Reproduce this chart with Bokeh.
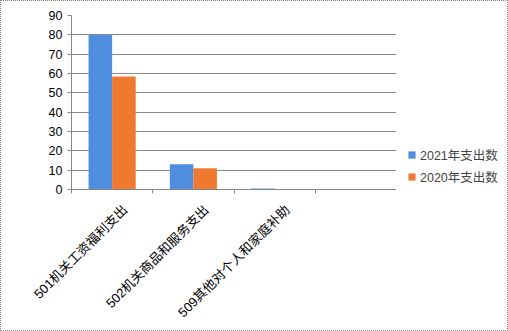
import numpy as np
from bokeh.plotting import figure
from bokeh.layouts import row
from bokeh.models import FixedTicker, Legend, LegendItem, ColumnDataSource, Range1d
from bokeh.transform import dodge
from bokeh.embed import file_html
from bokeh.resources import INLINE

categories = ["501机关工资福利支出", "502机关商品和服务支出", "509其他对个人和家庭补助", ""]
spend_2021 = [80, 13, 0.5, 0]
spend_2020 = [58.5, 11, 0, 0]
series_names = ["2021年支出数", "2020年支出数"]
series_colors = ["#4F8EDF", "#EF7A2F"]
y_ticks = [0, 10, 20, 30, 40, 50, 60, 70, 80, 90]

centers = np.arange(len(categories)) + 0.5
src = ColumnDataSource(dict(x=centers, a=spend_2021, b=spend_2020))

p = figure(width=396, height=331, title=None,
           x_range=Range1d(0, len(categories)), y_range=Range1d(0, 90),
           output_backend="svg", toolbar_location=None,
           min_border_left=71, min_border_right=0, min_border_top=15, min_border_bottom=142)
p.outline_line_color = None
p.background_fill_color = "white"
p.border_fill_alpha = 0

r1 = p.vbar(x=dodge("x", -0.145, range=p.x_range), top="a", width=0.29, source=src,
            fill_color=series_colors[0], line_color=None)
r2 = p.vbar(x=dodge("x", 0.145, range=p.x_range), top="b", width=0.29, source=src,
            fill_color=series_colors[1], line_color=None)

grid_color = "#8a8a8a"
axis_color = "#868686"
label_font = "'Liberation Sans', 'Noto Sans CJK SC'"

# y axis
p.yaxis.ticker = FixedTicker(ticks=y_ticks, minor_ticks=[])
p.yaxis.axis_line_color = axis_color
p.yaxis.major_tick_line_color = axis_color
p.yaxis.major_tick_out = 4
p.yaxis.major_tick_in = 0
p.yaxis.major_label_standoff = 5
p.yaxis.major_label_text_font = "Liberation Sans"
p.yaxis.major_label_text_font_size = "12.5px"
p.yaxis.major_label_text_color = "black"
p.ygrid.ticker = FixedTicker(ticks=y_ticks)
p.ygrid.grid_line_color = grid_color
p.xgrid.grid_line_color = None

# x axis: labels at (shifted) category centres, ticks at boundaries
shift = 0.16
label_pos = [round(c + shift, 2) for c in centers]
p.xaxis.ticker = FixedTicker(ticks=label_pos, minor_ticks=list(range(len(categories) + 1)))
p.xaxis.major_label_overrides = {lp: c for lp, c in zip(label_pos, categories)}
p.xaxis.major_label_orientation = np.pi / 4
p.xaxis.major_tick_line_color = None
p.xaxis.major_tick_out = 0
p.xaxis.major_tick_in = 0
p.xaxis.minor_tick_line_color = axis_color
p.xaxis.minor_tick_out = 4
p.xaxis.minor_tick_in = 0
p.xaxis.major_label_standoff = 14
p.xaxis.axis_line_color = axis_color
p.xaxis.major_label_text_font = label_font
p.xaxis.major_label_text_font_size = "13px"
p.xaxis.major_label_text_color = "black"

# legend panel (separate figure to the right of the plot; frames are aligned by the row)
q = figure(width=112, height=331, title=None, x_range=Range1d(0, 1), y_range=Range1d(0, 1),
           x_axis_type=None, y_axis_type=None, output_backend="svg", toolbar_location=None,
           min_border_left=0, min_border_right=0, min_border_top=15, min_border_bottom=142)
q.outline_line_color = None
q.background_fill_alpha = 0
q.border_fill_alpha = 0
q.xgrid.grid_line_color = None
q.ygrid.grid_line_color = None
proxy = ColumnDataSource(dict(x=[-5], top=[0]))
k1 = q.vbar(x="x", top="top", width=0.1, source=proxy, fill_color=series_colors[0], line_color=None)
k2 = q.vbar(x="x", top="top", width=0.1, source=proxy, fill_color=series_colors[1], line_color=None)
legend = Legend(items=[LegendItem(label=series_names[0], renderers=[k1]),
                       LegendItem(label=series_names[1], renderers=[k2])],
                location=(11, 3), padding=0, margin=0, spacing=3,
                glyph_width=9, glyph_height=9, label_height=18, label_standoff=4,
                border_line_color=None, background_fill_alpha=0,
                label_text_font=label_font, label_text_font_size="12.5px")
q.add_layout(legend, "center")

layout = row(p, q)
layout.styles = {"outline": "1px dotted #808080", "outline-offset": "-1px",
                 "background-color": "white"}

open("out.html", "w").write(file_html(layout, INLINE))
